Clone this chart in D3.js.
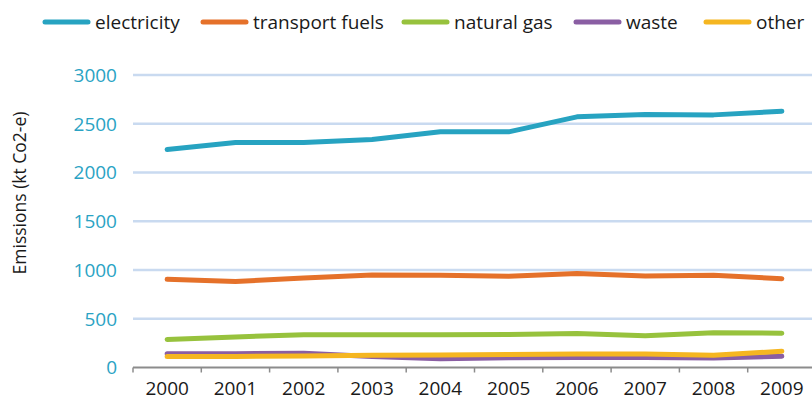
<!DOCTYPE html>
<html>
<head>
<meta charset="utf-8">
<script src="https://cdn.jsdelivr.net/npm/d3@7"></script>
<style>
  body { margin: 0; background: #fff; }
  text { font-family: "Open Sans", sans-serif; }
  .grid line { stroke: #c9daf0; stroke-width: 2.5; }
  .ytick { fill: #2aa3c4; font-size: 19px; }
  .xtick { fill: #1a1a1a; font-size: 19px; }
  .legend-text { fill: #1a1a1a; font-size: 19px; }
  .ylabel { fill: #1a1a1a; font-size: 17.5px; }
  .serie { fill: none; stroke-width: 5; stroke-linecap: round; stroke-linejoin: round; }
</style>
</head>
<body>
<div id="chart"></div>
<script>
var years = ["2000", "2001", "2002", "2003", "2004", "2005", "2006", "2007", "2008", "2009"],
    yTicks = [0, 500, 1000, 1500, 2000, 2500, 3000],
    names = ["electricity", "transport fuels", "natural gas", "waste", "other"],
    colors = ["#27a3c1", "#e5712a", "#97c23d", "#8a5ea3", "#f5b621"],

    // kt Co2-e
    electricity = [2236, 2307, 2307, 2338, 2417, 2417, 2571, 2595, 2591, 2629],
    transport = [904, 883, 917, 948, 945, 935, 965, 938, 945, 911],
    gas = [288, 313, 336, 336, 336, 339, 349, 326, 356, 352],
    waste = [141, 141, 146, 113, 89, 100, 103, 103, 98, 116],
    other = [113, 113, 118, 126, 128, 134, 139, 139, 126, 167],
    series = [electricity, transport, gas, waste, other];

var width = 812, height = 405;

var svg = d3.select("#chart").append("svg")
    .attr("width", width)
    .attr("height", height);

var x = d3.scaleBand()
    .domain(years)
    .range([133, 816]);

var y = d3.scaleLinear()
    .domain([0, 3000])
    .range([367.5, 75]);

// gridlines
svg.append("g").attr("class", "grid")
    .selectAll("line")
    .data(yTicks.filter(function (d) { return d > 0; }))
    .enter().append("line")
    .attr("x1", 133)
    .attr("x2", width)
    .attr("y1", function (d) { return y(d); })
    .attr("y2", function (d) { return y(d); });

// y tick labels
svg.append("g").selectAll("text")
    .data(yTicks)
    .enter().append("text")
    .attr("class", "ytick")
    .attr("x", 117)
    .attr("y", function (d) { return y(d); })
    .attr("dy", "0.36em")
    .attr("text-anchor", "end")
    .text(function (d) { return d; });

// x axis
var xAxis = d3.axisBottom(x).tickSize(0).tickPadding(14);
var gx = svg.append("g")
    .attr("transform", "translate(0," + y(0) + ")")
    .call(xAxis);
gx.select(".domain").remove();
gx.selectAll("text").attr("class", "xtick").attr("font-size", null).attr("font-family", null);

gx.append("line")
    .attr("x1", 133).attr("x2", width)
    .attr("y1", 0).attr("y2", 0)
    .attr("stroke", "#8c8c8c").attr("stroke-width", 2);
gx.selectAll(".bound")
    .data(years)
    .enter().append("line")
    .attr("class", "bound")
    .attr("x1", function (d) { return x(d); })
    .attr("x2", function (d) { return x(d); })
    .attr("y1", 0).attr("y2", 5)
    .attr("stroke", "#8c8c8c").attr("stroke-width", 1.5);

// y label
svg.append("text")
    .attr("class", "ylabel")
    .attr("transform", "translate(26,193) rotate(-90)")
    .attr("text-anchor", "middle")
    .text("Emissions (kt Co2-e)");

// lines
var line = d3.line()
    .x(function (d, i) { return x(years[i]) + x.bandwidth() / 2; })
    .y(function (d) { return y(d); });

svg.append("g").selectAll("path")
    .data(series)
    .enter().append("path")
    .attr("class", "serie")
    .attr("stroke", function (d, i) { return colors[i]; })
    .attr("d", line);

// legend
var legendX = [45, 203, 404, 576, 706];
var leg = svg.append("g").selectAll("g")
    .data(names)
    .enter().append("g")
    .attr("transform", function (d, i) { return "translate(" + legendX[i] + ",22)"; });
leg.append("line")
    .attr("x1", 0).attr("x2", 43)
    .attr("stroke", function (d, i) { return colors[i]; })
    .attr("stroke-width", 5)
    .attr("stroke-linecap", "round");
leg.append("text")
    .attr("class", "legend-text")
    .attr("x", 50)
    .attr("dy", "0.36em")
    .text(function (d) { return d; });
</script>
</body>
</html>
